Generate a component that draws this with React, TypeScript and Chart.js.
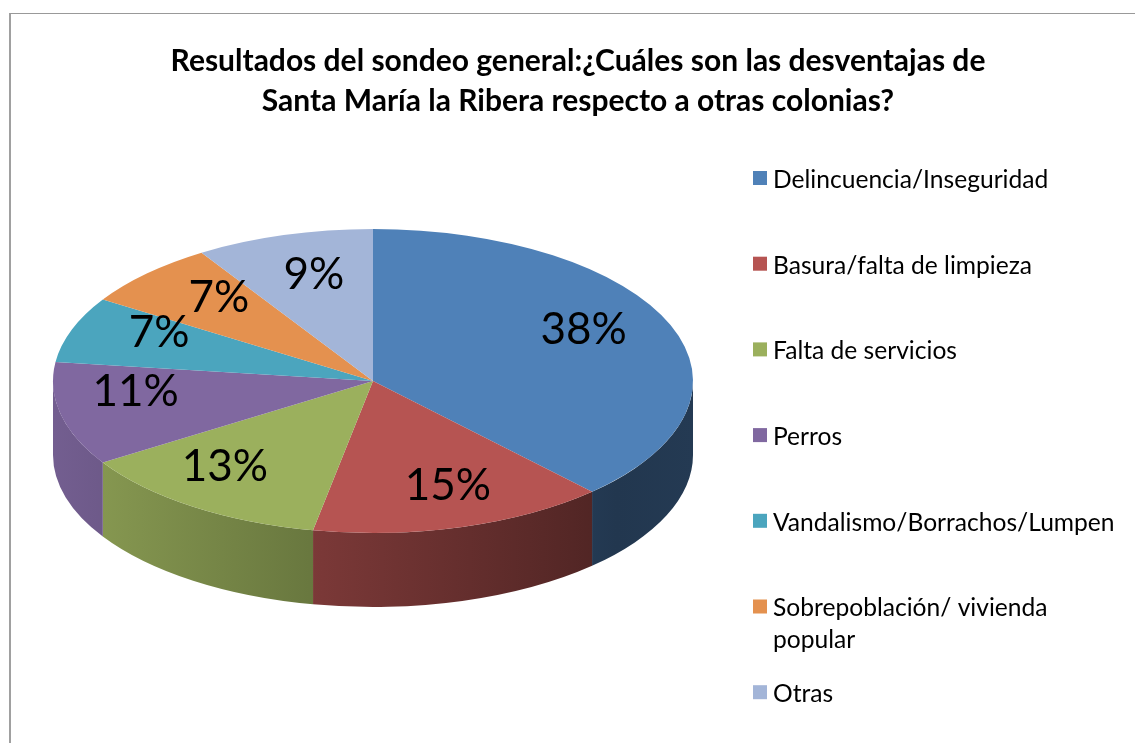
import React, { useEffect, useRef } from "react";
import { Chart, registerables } from "chart.js";

Chart.register(...registerables);

const TITLE_LINES = [
  "Resultados del sondeo general:¿Cuáles son las desventajas de",
  "Santa María la Ribera respecto a otras colonias?",
];
const CATEGORIES = [
  "Delincuencia/Inseguridad",
  "Basura/falta de limpieza",
  "Falta de servicios",
  "Perros",
  "Vandalismo/Borrachos/Lumpen",
  "Sobrepoblación/ vivienda popular",
  "Otras",
];
const PERCENTAGES = [38, 15, 13, 11, 7, 7, 9];
const COLORS = ["#4F81B8", "#B65452", "#9BB05D", "#8068A0", "#4BA5BE", "#E4914F", "#A3B5D8"];

const FONT = "Lato";

function shade(hex: string, f: number) {
  const n = parseInt(hex.slice(1), 16);
  const r = Math.round(((n >> 16) & 255) * f);
  const g = Math.round(((n >> 8) & 255) * f);
  const b = Math.round((n & 255) * f);
  return `rgb(${r},${g},${b})`;
}

const pie3d = {
  id: "pie3d",
  beforeDatasetsDraw(chart: any, _args: any, opts: any) {
    const meta = chart.getDatasetMeta(0);
    const ctx = chart.ctx as CanvasRenderingContext2D;
    const { cx, cy, rx, ry, depth } = opts;
    const colors = chart.data.datasets[0].backgroundColor as string[];
    meta.data.forEach((arc: any, i: number) => {
      const { startAngle, endAngle } = arc.getProps(["startAngle", "endAngle"], true);
      const a0 = Math.max(startAngle, 0);
      const a1 = Math.min(endAngle, Math.PI);
      if (a1 <= a0) return;
      const base = colors[i];
      const g = ctx.createLinearGradient(cx - rx, 0, cx + rx, 0);
      g.addColorStop(0, shade(base, 0.9));
      g.addColorStop(0.4, shade(base, 0.68));
      g.addColorStop(0.88, shade(base, 0.43));
      g.addColorStop(1, shade(base, 0.45));
      ctx.save();
      ctx.fillStyle = g;
      ctx.beginPath();
      ctx.ellipse(cx, cy, rx, ry, 0, a0, a1, false);
      ctx.ellipse(cx, cy + depth, rx, ry, 0, a1, a0, true);
      ctx.closePath();
      ctx.fill();
      ctx.restore();
    });
    const first = meta.data[0];
    const { x, y, outerRadius } = first.getProps(["x", "y", "outerRadius"], true);
    ctx.save();
    ctx.translate(cx, cy);
    ctx.scale(rx / outerRadius, ry / outerRadius);
    ctx.translate(-x, -y);
  },
  afterDatasetsDraw(chart: any, _args: any, opts: any) {
    const ctx = chart.ctx as CanvasRenderingContext2D;
    ctx.restore();
    const meta = chart.getDatasetMeta(0);
    const { cx, cy, rx, ry, labelFx, labelFy, labelDy, persp, labelFont } = opts;
    const values = chart.data.datasets[0].data as number[];
    const total = values.reduce((a, b) => a + b, 0);
    ctx.save();
    ctx.fillStyle = "#000";
    ctx.font = labelFont;
    ctx.textAlign = "center";
    ctx.textBaseline = "middle";
    meta.data.forEach((arc: any, i: number) => {
      const { startAngle, endAngle } = arc.getProps(["startAngle", "endAngle"], true);
      const mid = (startAngle + endAngle) / 2;
      const u = Math.cos(mid);
      const v = Math.sin(mid);
      const k = 1 + persp * v;
      const lx = cx + (rx * labelFx * u) / k;
      const ly = cy + labelDy + (ry * labelFy * v) / k;
      ctx.fillText(Math.round((values[i] / total) * 100) + "%", lx, ly);
    });
    ctx.restore();
  },
};

const sideLegend = {
  id: "sideLegend",
  afterDraw(chart: any, _args: any, opts: any) {
    const ctx = chart.ctx as CanvasRenderingContext2D;
    const { x, y, step, box, gap, lineHeight, font, maxWidth } = opts;
    const labels = chart.data.labels as string[];
    const colors = chart.data.datasets[0].backgroundColor as string[];
    ctx.save();
    ctx.font = font;
    ctx.textBaseline = "middle";
    ctx.textAlign = "left";
    labels.forEach((label, i) => {
      const cyItem = y + i * step;
      ctx.fillStyle = colors[i];
      ctx.fillRect(x, cyItem - box / 2 - 2, box, box);
      const words = label.split(" ");
      const lines: string[] = [];
      let cur = "";
      words.forEach((w) => {
        const t = cur ? cur + " " + w : w;
        if (ctx.measureText(t).width > maxWidth && cur) {
          lines.push(cur);
          cur = w;
        } else cur = t;
      });
      if (cur) lines.push(cur);
      ctx.fillStyle = "#000";
      lines.forEach((ln, j) => ctx.fillText(ln, x + box + gap, cyItem + j * lineHeight));
    });
    ctx.restore();
  },
};

export default function App() {
  const ref = useRef<HTMLCanvasElement | null>(null);
  useEffect(() => {
    if (!ref.current) return;
    const chart = new Chart(ref.current, {
      type: "pie",
      data: {
        labels: CATEGORIES,
        datasets: [
          {
            data: PERCENTAGES,
            backgroundColor: COLORS,
            borderWidth: 0,
          },
        ],
      },
      options: {
        responsive: false,
        animation: false,
        layout: { padding: { left: 21, right: 0, top: 0, bottom: 0 } },
        plugins: {
          legend: { display: false },
          tooltip: { enabled: false },
          title: {
            display: true,
            text: TITLE_LINES,
            color: "#000",
            font: { family: FONT, weight: "bold", size: 30, lineHeight: 40 / 30 },
            padding: { top: 41, bottom: 10 },
          },
          pie3d: {
            cx: 373,
            cy: 381,
            rx: 320,
            ry: 152,
            depth: 74,
            labelFx: 0.74,
            labelFy: 0.71,
            labelDy: -13,
            persp: -0.122,
            labelFont: `44px ${FONT}`,
          },
          sideLegend: {
            x: 753,
            y: 180,
            step: 85.7,
            box: 14,
            gap: 6,
            lineHeight: 32,
            font: `24.6px ${FONT}`,
            maxWidth: 350,
          },
        } as any,
      },
      plugins: [pie3d, sideLegend],
    });
    return () => chart.destroy();
  }, []);
  return (
    <div style={{ position: "absolute", left: 0, top: 0, width: 1135, height: 743, background: "#fff", overflow: "hidden" }}>
      <canvas ref={ref} width={1135} height={743} style={{ display: "block" }} />
      <div
        style={{
          position: "absolute",
          left: 9,
          top: 13,
          right: -5,
          bottom: -5,
          borderLeft: "2px solid #a0a0a0",
          borderTop: "1px solid #999",
          pointerEvents: "none",
        }}
      />
    </div>
  );
}
